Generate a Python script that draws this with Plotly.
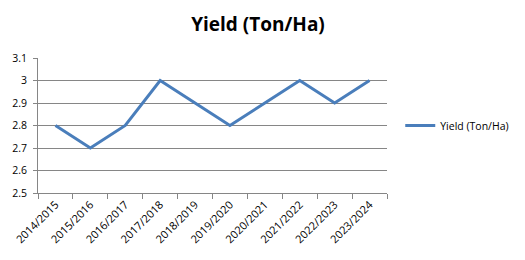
import plotly.graph_objects as go

seasons = ["2014/2015", "2015/2016", "2016/2017", "2017/2018", "2018/2019",
           "2019/2020", "2020/2021", "2021/2022", "2022/2023", "2023/2024"]
yield_ton_ha = [2.8, 2.7, 2.8, 3.0, 2.9, 2.8, 2.9, 3.0, 2.9, 3.0]

fig = go.Figure()
fig.add_trace(go.Scatter(
    x=seasons, y=yield_ton_ha, mode="lines", name="Yield (Ton/Ha)",
    line=dict(color="#4A7EBB", width=3),
))

grid = "#868686"
fig.update_layout(
    width=525, height=260,
    margin=dict(l=38, r=137, t=58, b=67),
    paper_bgcolor="white", plot_bgcolor="white",
    title=dict(text="<b>Yield (Ton/Ha)</b>", x=258/525, xanchor="center",
               y=1 - 24/260, yanchor="middle",
               font=dict(family="Open Sans", size=19, color="black")),
    font=dict(family="Open Sans", size=10, color="black"),
    showlegend=True,
    legend=dict(x=1.035, xanchor="left", y=0.5, yanchor="middle",
                font=dict(size=10.5), bgcolor="rgba(0,0,0,0)"),
    xaxis=dict(type="category", range=[-0.5, 9.5], showgrid=False,
               showline=True, linecolor=grid, linewidth=1,
               ticks="outside", tickson="boundaries", ticklen=5, tickcolor=grid,
               tickangle=-45, tickfont=dict(size=11)),
    yaxis=dict(range=[2.5, 3.1], dtick=0.1, tick0=2.5, showgrid=True,
               gridcolor=grid, gridwidth=1, showline=True, linecolor=grid,
               ticks="outside", ticklen=4, tickcolor=grid, zeroline=False,
               ticklabelstandoff=4, tickfont=dict(size=10.5)),
)
fig.write_html("out.html")
